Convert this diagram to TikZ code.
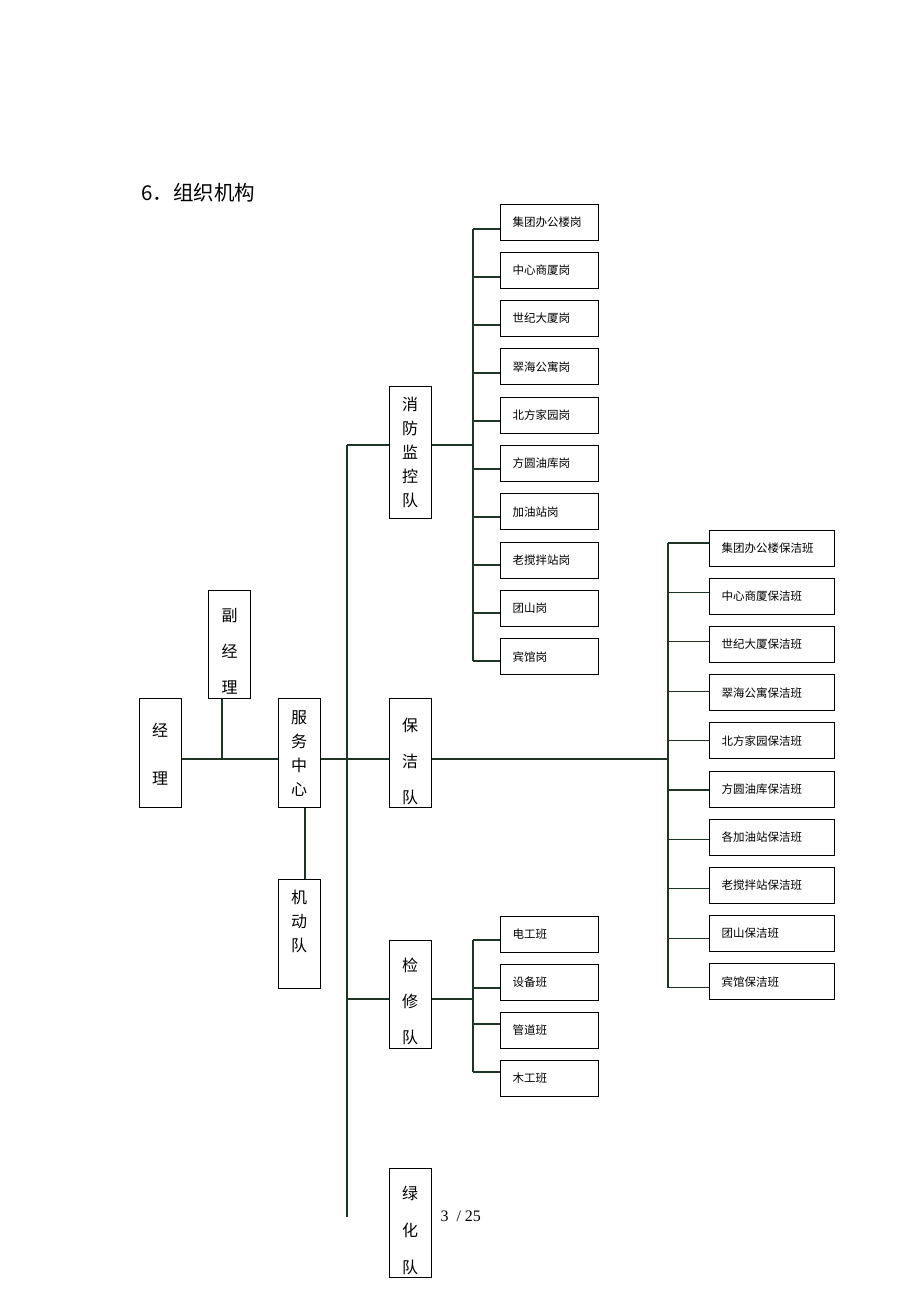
\documentclass[tikz,border=0pt]{standalone}
\usepackage{fontspec}
\setmainfont{Liberation Serif}
\newfontfamily\cjk{Noto Sans CJK SC}
\usetikzlibrary{positioning, calc}
\definecolor{linkgreen}{RGB}{30,52,36}
\tikzset{
    vbox/.style={draw=black, line width=1pt, minimum width=42pt, inner sep=0pt},
    vtext/.style={align=center, font=\cjk\fontsize{16}{16}\selectfont, inner sep=0pt},
    hbox/.style={draw=black, line width=1pt, minimum width=98pt, minimum height=36pt, anchor=west, font=\cjk\fontsize{11.5}{11.5}\selectfont, inner xsep=12pt, text width=74pt, align=left},
    wbox/.style={hbox, minimum width=125pt, text width=101pt},
    link/.style={draw=linkgreen, line width=1.1pt}
}

\begin{document}
\begin{tikzpicture}[x=1pt, y=-1pt]
        \useasboundingbox (0,0) rectangle (920,1302);
        \node[anchor=west, font=\cjk\fontsize{20.5}{20.5}\selectfont] (title) at (138,193) {6．组织机构};

        % left part
        \node[vbox, minimum height=109pt] (jl) at (160,752.5) {};
        \node[vtext] (jl text) at (160,754) {经\\[32pt]理};
        \node[vbox, minimum height=108pt] (fjl) at (229.5,644) {};
        \node[vtext] (fjl text) at (229.5,651) {副\\[20pt]经\\[20pt]理};
        \node[vbox, minimum height=109pt] (fw) at (299,752.5) {};
        \node[vtext] (fw text) at (299,754) {服\\[8pt]务\\[8pt]中\\[8pt]心};
        \node[vbox, minimum height=109pt] (jd) at (299,933.5) {};
        \node[vtext] (jd text) at (299,921) {机\\[8pt]动\\[8pt]队};

        \draw[link] (jl.east |- 0,759) -- (fw.west |- 0,759);
        \draw[link] (fjl.south -| 222,0) -- (222,759);
        \draw[link] (fw.south -| 305,0) -- (jd.north -| 305,0);

        % teams
        \node[vbox, minimum height=132pt] (xf) at (410,452) {};
        \node[vtext] (xf text) at (410,452) {消\\[8pt]防\\[8pt]监\\[8pt]控\\[8pt]队};
        \node[vbox, minimum height=109pt] (bj) at (410,752.5) {};
        \node[vtext] (bj text) at (410,761) {保\\[20pt]洁\\[20pt]队};
        \node[vbox, minimum height=108pt] (jx) at (410,994) {};
        \node[vtext] (jx text) at (410,1001) {检\\[20pt]修\\[20pt]队};
        \node[vbox, minimum height=109pt] (lh) at (410,1222.5) {};
        \node[vtext] (lh text) at (410,1230) {绿\\[21pt]化\\[21pt]队};
        \node[anchor=west, font=\fontsize{16}{16}\selectfont] (page) at (437,1216) {3~~/~25};

        \coordinate (bus top) at (347,445);
        \coordinate (bus end) at (347,1217);
        \draw[link] (bus top) -- (bus end);
        \draw[link] (fw.east |- 0,759) -- (bj.west |- 0,759);
        \draw[link] (bus top) -- (xf.west |- bus top);
        \draw[link] (347,999) -- (jx.west |- 0,999);

        % fire posts
        \foreach \t [count=\i] in {集团办公楼岗,中心商厦岗,世纪大厦岗,翠海公寓岗,北方家园岗,方圆油库岗,加油站岗,老搅拌站岗,团山岗,宾馆岗}
            \node[hbox] (f\i) at (500,{222+(\i-1)*48.3}) {\t};
        \draw[link] (473,229) -- (473,661);
        \draw[link] (xf.east |- 0,445) -- (473,445);
        \foreach \i in {1,...,10}
            \draw[link] (473,{229+(\i-1)*48}) -- (f\i.west |- 0,{229+(\i-1)*48});

        % cleaning squads
        \foreach \t [count=\i] in {集团办公楼保洁班,中心商厦保洁班,世纪大厦保洁班,翠海公寓保洁班,北方家园保洁班,方圆油库保洁班,各加油站保洁班,老搅拌站保洁班,团山保洁班,宾馆保洁班}
            \node[wbox] (c\i) at (709,{548+(\i-1)*48.2}) {\t};
        \draw[link] (668,543) -- (668,988);
        \draw[link] (bj.east |- 0,759) -- (668,759);
        \foreach \i in {1,...,10}
            \draw[link] (668,{543+(\i-1)*49.4}) -- (c\i.west |- 0,{543+(\i-1)*49.4});

        % repair squads
        \foreach \t [count=\i] in {电工班,设备班,管道班,木工班}
            \node[hbox] (r\i) at (500,{934+(\i-1)*48}) {\t};
        \draw[link] (473,940) -- (473,1072);
        \draw[link] (jx.east |- 0,999) -- (473,999);
        \foreach \y [count=\i] in {940,988,1024,1072}
            \draw[link] (473,\y) -- (r\i.west |- 0,\y);
\end{tikzpicture}
\end{document}
